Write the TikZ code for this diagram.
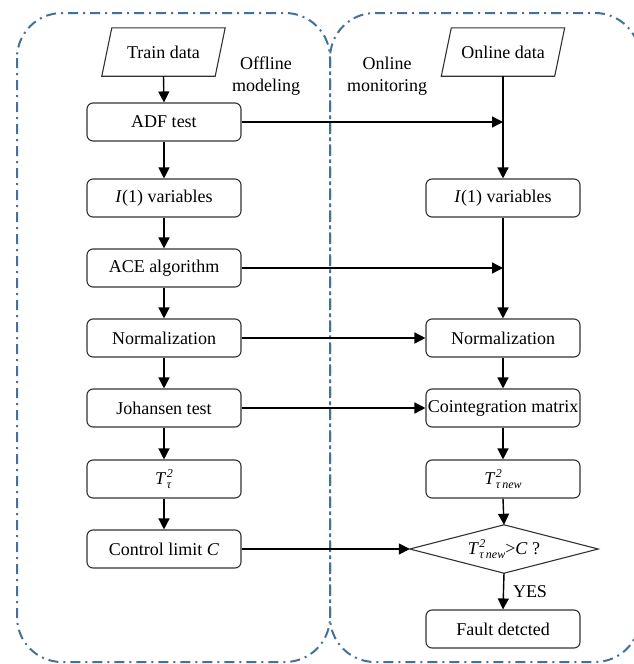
\documentclass[tikz,border=0pt]{standalone}
\usepackage{fontspec}
\setmainfont{Liberation Serif}
\usetikzlibrary{arrows.meta,calc}
\definecolor{regionblue}{RGB}{65,113,156}
\definecolor{boxline}{RGB}{50,50,50}
\newcommand{\smallfs}{\fontsize{12}{12}\selectfont}
\newcommand{\Ttau}{\textit{T}\kern0.5pt\rlap{\raisebox{-4pt}{\smallfs\textit{τ}}}\raisebox{7pt}{\smallfs\textit{2}}}
\newcommand{\Tnew}{\Ttau\kern0.5pt\raisebox{-4pt}{\smallfs\textit{new}}}
\tikzset{
  region/.style={draw=regionblue, line width=2pt, dash pattern=on 10pt off 5pt on 2pt off 5pt, rounded corners=45pt},
  stepbox/.style={draw=boxline, line width=1.1pt, rounded corners=6pt, minimum width=154pt, minimum height=38pt, inner sep=0pt},
  databox/.style={minimum width=113pt, minimum height=48pt, inner sep=0pt},
  txt/.style={font=\fontsize{18}{21}\selectfont},
  arr/.style={-{Triangle[length=11pt,width=11pt]}, line width=1.4pt, black},
  para/.style={draw=boxline, line width=1.1pt}
}
\begin{document}
\begin{tikzpicture}[x=1pt,y=-1pt,every node/.style={txt}]
\useasboundingbox (0,0) rectangle (634,664);
\clip (0,0) rectangle (634,664);
% regions
\draw[region] (17,13) rectangle (330,662);
\draw[region] (330,13) rectangle (640,662);
% labels
\node[align=center, inner sep=0pt] (offl) at (266,76) {Offline\\[1pt]modeling};
\node[align=center, inner sep=0pt] (onl) at (387,76) {Online\\[1pt]monitoring};
% left column
\node[databox] (train) at (163.5,52) {Train data};
\draw[para] ($(train.north west)+(5,0)$) -- ($(train.north east)+(5,0)$) -- ($(train.south east)+(-5,0)$) -- ($(train.south west)+(-5,0)$) -- cycle;
\node[stepbox] (adf) at (164,122) {ADF test};
\node[stepbox] (li1) at (164,198) {\textit{I}(1) variables};
\node[stepbox] (ace) at (164,268) {ACE algorithm};
\node[stepbox] (lnorm) at (164,338) {Normalization};
\node[stepbox] (joh) at (164,408) {Johansen test};
\node[stepbox] (tt) at (164,479) {\Ttau};
\node[stepbox] (cl) at (164,549) {Control limit \textit{C}};
% right column
\node[databox] (online) at (503,52) {Online data};
\draw[para] ($(online.north west)+(5,0)$) -- ($(online.north east)+(5,0)$) -- ($(online.south east)+(-5,0)$) -- ($(online.south west)+(-5,0)$) -- cycle;
\node[stepbox] (ri1) at (503,198) {\textit{I}(1) variables};
\node[stepbox] (rnorm) at (503,338) {Normalization};
\node[stepbox] (coint) at (503,408) {Cointegration matrix};
\node[stepbox] (tnew) at (503,479) {\Tnew};
\node[minimum width=188pt, minimum height=48pt, inner sep=0pt] (dec) at (504,549) {\Tnew{}>\textit{C} ?};
\draw[para] (dec.north) -- (dec.east) -- (dec.south) -- (dec.west) -- cycle;
\node[stepbox] (fault) at (503,629) {Fault detcted};
\node[inner sep=0pt] (yes) at (530,592) {YES};
% left arrows
\draw[arr] (train.south) -- (adf.north);
\draw[arr] (adf.south) -- (li1.north);
\draw[arr] (li1.south) -- (ace.north);
\draw[arr] (ace.south) -- (lnorm.north);
\draw[arr] (lnorm.south) -- (joh.north);
\draw[arr] (joh.south) -- (tt.north);
\draw[arr] (tt.south) -- (cl.north);
% right arrows
\draw[arr] (online.south) -- (ri1.north);
\draw[arr] (ri1.south) -- (rnorm.north);
\draw[arr] (rnorm.south) -- (coint.north);
\draw[arr] (coint.south) -- (tnew.north);
\draw[arr] (tnew.south) -- (dec.north);
\draw[arr] (dec.south) -- (fault.north);
% cross arrows
\draw[arr] (adf.east) -- (adf.east -| online.south);
\draw[arr] (ace.east) -- (ace.east -| online.south);
\draw[arr] (lnorm.east) -- (rnorm.west);
\draw[arr] (joh.east) -- (coint.west);
\draw[arr] (cl.east) -- (dec.west);
\end{tikzpicture}
\end{document}
